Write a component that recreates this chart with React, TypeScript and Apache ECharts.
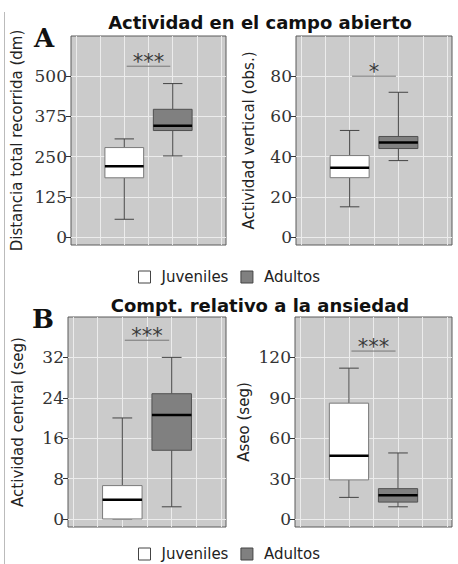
import React, { useEffect, useRef } from 'react';
import * as echarts from 'echarts';

const groups = ['Juveniles', 'Adultos'];
const groupPos = [1, 2];
const groupFill = ['#ffffff', '#808080'];
const groupBorder = ['#7a7a7a', '#505050'];

// [min, Q1, mediana, Q3, max]
const distancia = [[55, 184, 220, 278, 305], [252, 331, 346, 397, 477]];
const vertical = [[15, 29.5, 34.5, 40.5, 53], [38, 44, 47, 50, 72]];
const central = [[0, 0, 3.8, 6.6, 20], [2.4, 13.6, 20.6, 24.8, 32]];
const aseo = [[16, 29, 47, 86, 112], [9, 12.5, 17.5, 22.5, 49]];

const ticksDistancia = [0, 125, 250, 375, 500];
const ticksVertical = [0, 20, 40, 60, 80];
const ticksCentral = [0, 8, 16, 24, 32];
const ticksAseo = [0, 30, 60, 90, 120];
const xGrid = [0, 0.5, 1, 1.5, 2, 2.5, 3];

const sigY = [531, 80, 35.4, 124.7];
const sigLabel = ['***', '*', '***', '***'];

const yNames = ['Distancia total recorrida (dm)', 'Actividad vertical (obs.)', 'Actividad central (seg)', 'Aseo (seg)'];

const panels = [
  { data: distancia, ticks: ticksDistancia, min: -25, max: 625, grid: { left: 71, top: 36, width: 155, height: 209 }, gap: 47 },
  { data: vertical, ticks: ticksVertical, min: -4, max: 100, grid: { left: 296, top: 36, width: 156, height: 209 }, gap: 40 },
  { data: central, ticks: ticksCentral, min: -1.6, max: 40, grid: { left: 68, top: 317, width: 158, height: 210 }, gap: 43 },
  { data: aseo, ticks: ticksAseo, min: -6, max: 150, grid: { left: 295, top: 317, width: 157, height: 210 }, gap: 44 },
];

const BOX_W = 0.8;

const boxRenderer = (fill: string, stroke: string) => (params: any, api: any) => {
  const x = api.value(0);
  const lo = api.coord([x, api.value(1)]);
  const q1 = api.coord([x, api.value(2)]);
  const med = api.coord([x, api.value(3)]);
  const q3 = api.coord([x, api.value(4)]);
  const hi = api.coord([x, api.value(5)]);
  const half = api.size([BOX_W, 0])[0] / 2;
  const cap = half / 2;
  const wStyle = { stroke: '#444', lineWidth: 1 };
  return {
    type: 'group',
    children: [
      { type: 'line', shape: { x1: lo[0], y1: lo[1], x2: q1[0], y2: q1[1] }, style: wStyle },
      { type: 'line', shape: { x1: q3[0], y1: q3[1], x2: hi[0], y2: hi[1] }, style: wStyle },
      { type: 'line', shape: { x1: lo[0] - cap, y1: lo[1], x2: lo[0] + cap, y2: lo[1] }, style: wStyle },
      { type: 'line', shape: { x1: hi[0] - cap, y1: hi[1], x2: hi[0] + cap, y2: hi[1] }, style: wStyle },
      {
        type: 'rect',
        shape: { x: q1[0] - half, y: q3[1], width: half * 2, height: q1[1] - q3[1] },
        style: { fill, stroke, lineWidth: 1 },
      },
      { type: 'line', shape: { x1: med[0] - half, y1: med[1], x2: med[0] + half, y2: med[1] }, style: { stroke: '#000', lineWidth: 2.5 } },
    ],
  };
};

const sigRenderer = (params: any, api: any) => {
  const a = api.coord([api.value(0), api.value(2)]);
  const b = api.coord([api.value(1), api.value(2)]);
  return {
    type: 'group',
    children: [
      { type: 'line', shape: { x1: a[0], y1: a[1], x2: b[0], y2: b[1] }, style: { stroke: '#777', lineWidth: 1 } },
      {
        type: 'text',
        x: (a[0] + b[0]) / 2,
        y: a[1] + 6,
        style: {
          text: sigLabel[params.seriesIndex - 8] ?? '',
          font: '21px "DejaVu Sans"',
          fill: '#3a3a3a',
          align: 'center',
          verticalAlign: 'bottom',
        },
      },
    ],
  };
};

const legendAt = (top: number) => ({
  top,
  left: 'center',
  icon: 'rect',
  itemWidth: 12,
  itemHeight: 12,
  itemGap: 12,
  selectedMode: false,
  textStyle: { fontFamily: 'DejaVu Sans', fontSize: 15, lineHeight: 16, color: '#222', padding: [0, 0, 0, 6] },
  data: groups.map((g, i) => ({
    name: g,
    itemStyle: { color: groupFill[i], borderColor: '#444', borderWidth: 1 },
  })),
});

const App: React.FC = () => {
  const chartRef = useRef<HTMLDivElement>(null);

  useEffect(() => {
    const chart = echarts.init(chartRef.current!, null, { renderer: 'svg' });

    const boxSeries: any[] = [];
    panels.forEach((p, pi) => {
      groups.forEach((g, gi) => {
        boxSeries.push({
          type: 'custom',
          name: g,
          xAxisIndex: pi,
          yAxisIndex: pi,
          itemStyle: { color: groupFill[gi] },
          encode: { x: 0, y: [1, 2, 3, 4, 5] },
          data: [[groupPos[gi], ...p.data[gi]]],
          renderItem: boxRenderer(groupFill[gi], groupBorder[gi]),
        });
      });
    });
    const sigSeries = panels.map((p, pi) => ({
      type: 'custom',
      name: 'sig' + pi,
      xAxisIndex: pi,
      yAxisIndex: pi,
      encode: { x: [0, 1], y: 2 },
      data: [[1.05, 1.95, sigY[pi]]],
      renderItem: sigRenderer,
    }));

    const options = {
      animation: false,
      backgroundColor: '#ffffff',
      grid: panels.map((p) => ({
        ...p.grid,
        show: true,
        backgroundColor: '#cbcbcb',
        borderColor: '#5a5a5a',
        borderWidth: 1,
        containLabel: false,
      })),
      xAxis: panels.map((p, pi) => ({
        type: 'value',
        gridIndex: pi,
        min: -0.1,
        max: 3.1,
        axisLine: { show: false, onZero: false },
        axisTick: { show: false, customValues: xGrid },
        axisLabel: { show: false, customValues: xGrid },
        splitLine: { show: true, lineStyle: { color: '#ececec', width: 1 } },
      })),
      yAxis: panels.map((p, pi) => ({
        type: 'value',
        gridIndex: pi,
        min: p.min,
        max: p.max,
        name: yNames[pi],
        nameLocation: 'middle',
        nameRotate: 90,
        nameGap: p.gap,
        nameTextStyle: { fontFamily: 'DejaVu Sans', fontSize: 15, color: '#222' },
        axisLine: { show: false, onZero: false },
        axisTick: { show: true, length: 5, customValues: p.ticks, lineStyle: { color: '#333' } },
        axisLabel: {
          customValues: p.ticks,
          margin: 4,
          fontFamily: 'DejaVu Serif',
          fontSize: 17,
          color: '#333',
        },
        splitLine: { show: true, lineStyle: { color: '#ececec', width: 1 } },
      })),
      legend: [legendAt(264), legendAt(541)],
      graphic: [
        {
          type: 'line',
          shape: { x1: 4.5, y1: 12, x2: 4.5, y2: 564 },
          style: { stroke: '#bbbbbb', lineWidth: 1 },
        },
        {
          type: 'text',
          x: 260,
          y: 22,
          style: { text: 'Actividad en el campo abierto', font: 'bold 18px "DejaVu Sans"', fill: '#111', align: 'center', verticalAlign: 'middle' },
        },
        {
          type: 'text',
          x: 260,
          y: 305,
          style: { text: 'Compt. relativo a la ansiedad', font: 'bold 18px "DejaVu Sans"', fill: '#111', align: 'center', verticalAlign: 'middle' },
        },
        {
          type: 'text',
          x: 44,
          y: 38,
          style: { text: 'A', font: 'bold 26px "DejaVu Serif"', fill: '#111', align: 'center', verticalAlign: 'middle' },
        },
        {
          type: 'text',
          x: 43,
          y: 319,
          style: { text: 'B', font: 'bold 26px "DejaVu Serif"', fill: '#111', align: 'center', verticalAlign: 'middle' },
        },
      ],
      series: [...boxSeries, ...sigSeries],
    };

    chart.setOption(options as any);

    return () => {
      chart.dispose();
    };
  }, []);

  return (
    <div
      ref={chartRef}
      style={{ position: 'absolute', left: 0, top: 0, width: '458px', height: '564px' }}
    />
  );
};

export default App;
